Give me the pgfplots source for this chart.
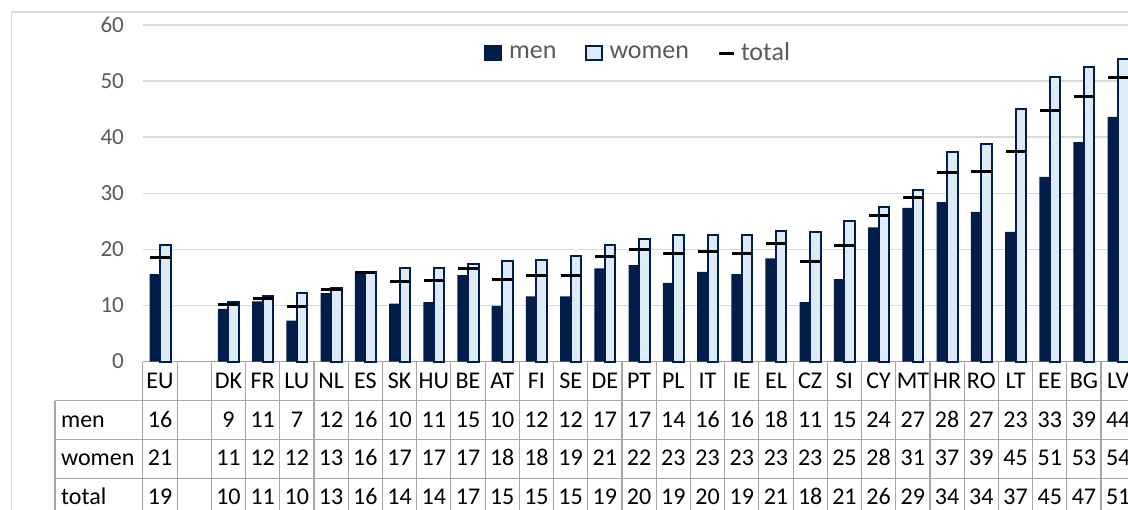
\documentclass[border=0pt]{standalone}
\usepackage{pgfplots}
\pgfplotsset{compat=1.18}
\usepackage{pgfplotstable}
\usepackage{fontspec}
\setmainfont{Carlito}
\definecolor{menc}{HTML}{021D49}
\definecolor{womenc}{HTML}{DDEBF7}
\definecolor{tgrey}{HTML}{A6A6A6}
\definecolor{ggrey}{HTML}{D9D9D9}
\definecolor{lgrey}{HTML}{595959}
\newcommand\tabfont{\fontsize{12}{14}\selectfont}

\pgfplotstableread{
x cat men women total m w t
0 EU 15.6 20.8 18.6 16 21 19
2 DK 9.4 10.6 10.2 9 11 10
3 FR 10.7 11.6 11.3 11 12 11
4 LU 7.3 12.3 9.8 7 12 10
5 NL 12.2 13.1 12.8 12 13 13
6 ES 15.7 15.9 15.8 16 16 16
7 SK 10.3 16.6 14.2 10 17 14
8 HU 10.6 16.6 14.4 11 17 14
9 BE 15.4 17.4 16.6 15 17 17
10 AT 9.9 17.9 14.6 10 18 15
11 FI 11.6 18.1 15.3 12 18 15
12 SE 11.6 18.8 15.4 12 19 15
13 DE 16.6 20.8 18.7 17 21 19
14 PT 17.2 21.8 19.9 17 22 20
15 PL 14.0 22.6 19.3 14 23 19
16 IT 16.0 22.6 19.7 16 23 20
17 IE 15.6 22.6 19.3 16 23 19
18 EL 18.4 23.2 21.1 18 23 21
19 CZ 10.6 23.1 17.9 11 23 18
20 SI 14.7 25.1 20.7 15 25 21
21 CY 23.9 27.6 26.0 24 28 26
22 MT 27.4 30.6 29.2 27 31 29
23 HR 28.4 37.3 33.7 28 37 34
24 RO 26.7 38.8 33.9 27 39 34
25 LT 23.1 45.1 37.4 23 45 37
26 EE 32.9 50.8 44.7 33 51 45
27 BG 39.1 52.6 47.2 39 53 47
28 LV 43.6 54.0 50.6 44 54 51
}\data

\begin{document}
\begin{tikzpicture}
\draw[ggrey, line width=0.75pt] (-65.65pt,-120pt) -- (-65.65pt,174.75pt) -- (620pt,174.75pt);
\begin{axis}[
  scale only axis, width=496.2pt, height=168.25pt,
  xmin=-0.5, xmax=28.5, ymin=0, ymax=60,
  ytick={0,10,...,60}, xtick=\empty,
  ymajorgrids, grid style={ggrey, line width=0.75pt},
  axis line style={draw=none},
  major tick length=0pt,
  /pgf/number format/assume math mode=true,
  yticklabel style={text=lgrey, font=\fontsize{11.5}{13}\selectfont, xshift=-6pt},
  clip=false,
  legend style={at={(0.5,0.916)}, anchor=center, legend columns=3, draw=none, fill=none,
    font=\fontsize{13}{15}\selectfont, text=lgrey, inner sep=0pt,
    /tikz/every even column/.append style={column sep=12pt}},
  legend cell align=left,
]
% table grid
\draw[tgrey, line width=0.6pt] (axis cs:-0.5,0) -- (axis cs:31,0);
\draw[tgrey, line width=0.6pt] (axis cs:-3.069,-7.0) -- (axis cs:31,-7.0);
\draw[tgrey, line width=0.6pt] (axis cs:-3.069,-13.84) -- (axis cs:31,-13.84);
\draw[tgrey, line width=0.6pt] (axis cs:-3.069,-20.86) -- (axis cs:31,-20.86);
\draw[tgrey, line width=0.6pt] (axis cs:-3.069,-7.0) -- (axis cs:-3.069,-30);
\pgfplotsinvokeforeach{-1,...,28}{
  \draw[tgrey, line width=0.6pt] (axis cs:#1+0.5,0) -- (axis cs:#1+0.5,-30);
}
\addplot[ybar, bar width=0.307, bar shift=-0.1535, fill=menc, draw=none,
  legend image code/.code={\fill[menc] (-0.5pt,-4pt) rectangle (8.5pt,4pt); \path[draw=none, fill=none] (-0.5pt,0pt) -- (10pt,0pt);}]
  table[x=x, y=men] {\data};
\addlegendentry{men}
\addplot[ybar, bar width=0.307, bar shift=0.1535, fill=womenc, draw=menc, line width=1pt,
  legend image code/.code={\draw[menc, fill=womenc, line width=1pt] (0pt,-3.5pt) rectangle (8pt,3.5pt); \path[draw=none, fill=none] (-0.5pt,0pt) -- (10pt,0pt);}]
  table[x=x, y=women] {\data};
\addlegendentry{women}
\addplot[only marks, mark=-, mark size=5pt, mark options={line width=1.5pt, draw=black},
  legend image code/.code={\draw[black, line width=1.5pt] (0.5pt,0pt) -- (8pt,0pt); \path[draw=none, fill=none] (-0.5pt,0pt) -- (9.5pt,0pt);}]
  table[x=x, y=total] {\data};
\addlegendentry{total}
% data table text
\addplot[forget plot, draw=none, mark=none, nodes near coords, point meta=explicit symbolic,
  nodes near coords style={anchor=base, font=\tabfont, text=black, inner sep=0pt}]
  table[x=x, y expr=-4.73, meta=cat] {\data};
\addplot[forget plot, draw=none, mark=none, nodes near coords, point meta=explicit symbolic,
  nodes near coords style={anchor=base, font=\tabfont, text=black, inner sep=0pt}]
  table[x=x, y expr=-11.70, meta=m] {\data};
\addplot[forget plot, draw=none, mark=none, nodes near coords, point meta=explicit symbolic,
  nodes near coords style={anchor=base, font=\tabfont, text=black, inner sep=0pt}]
  table[x=x, y expr=-18.57, meta=w] {\data};
\addplot[forget plot, draw=none, mark=none, nodes near coords, point meta=explicit symbolic,
  nodes near coords style={anchor=base, font=\tabfont, text=black, inner sep=0pt}]
  table[x=x, y expr=-25.45, meta=t] {\data};
\node[anchor=base west, font=\tabfont, inner sep=0pt] at (axis cs:-2.902,-11.70) {men};
\node[anchor=base west, font=\tabfont, inner sep=0pt] at (axis cs:-2.902,-18.57) {women};
\node[anchor=base west, font=\tabfont, inner sep=0pt] at (axis cs:-2.902,-25.45) {total};
\end{axis}
\pgfresetboundingbox
\path[use as bounding box] (-71.45pt,-73.75pt) rectangle (492.55pt,180.75pt);
\end{tikzpicture}
\end{document}
